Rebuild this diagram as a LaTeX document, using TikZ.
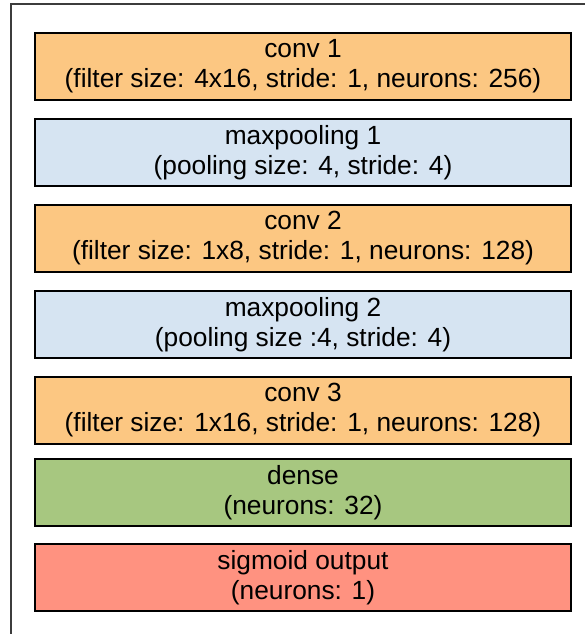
\documentclass[tikz,border=0pt]{standalone}
\usepackage{fontspec}
\setmainfont{Liberation Sans}
\definecolor{convc}{RGB}{252,199,130}
\definecolor{poolc}{RGB}{214,228,242}
\definecolor{densec}{RGB}{167,199,128}
\definecolor{outc}{RGB}{255,146,128}
\definecolor{framec}{RGB}{60,60,60}
\tikzset{
  layerbox/.style={draw=black, line width=1.3pt, minimum width=536pt, minimum height=67pt,
    inner sep=0pt, align=center, font=\fontsize{26.3}{30}\selectfont},
}
\begin{document}
\begin{tikzpicture}[x=1pt,y=-1pt]
\useasboundingbox (0,0) rectangle (584,634);
\draw[framec, line width=1.2pt] (11,640) -- (11,4) -- (590,4);
\node[layerbox, fill=convc] (c1) at (303,66.5) {conv 1\\(filter size: 4x16, stride: 1, neurons: 256)};
\node[layerbox, fill=poolc] (p1) at (303,152.5) {maxpooling 1\\(pooling size: 4, stride: 4)};
\node[layerbox, fill=convc] (c2) at (303,238.5) {conv 2\\(filter size: 1x8, stride: 1, neurons: 128)};
\node[layerbox, fill=poolc] (p2) at (303,324.5) {maxpooling 2\\(pooling size :4, stride: 4)};
\node[layerbox, fill=convc] (c3) at (303,410.5) {conv 3\\(filter size: 1x16, stride: 1, neurons: 128)};
\node[layerbox, fill=densec] (d) at (303,492.5) {dense\\(neurons: 32)};
\node[layerbox, fill=outc] (o) at (303,577.5) {sigmoid output\\(neurons: 1)};
\end{tikzpicture}
\end{document}
